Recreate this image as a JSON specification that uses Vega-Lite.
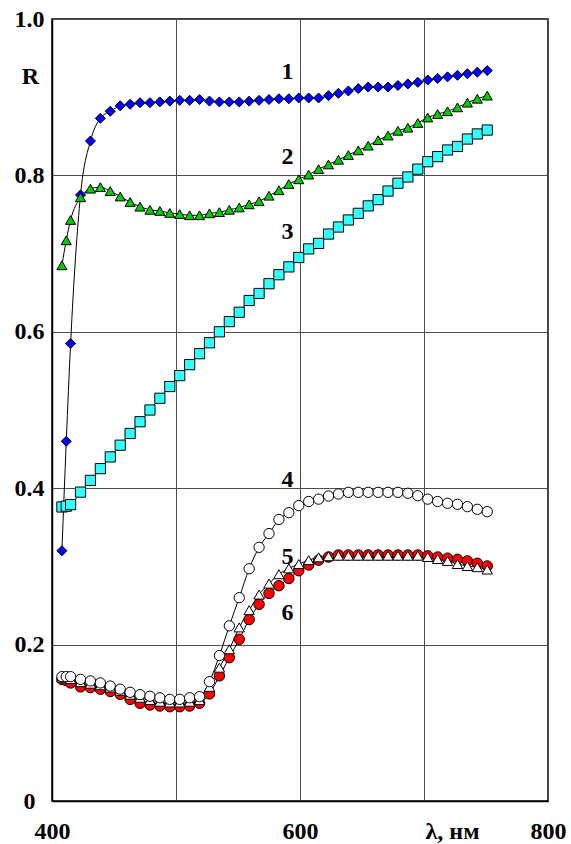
{
"$schema": "https://vega.github.io/schema/vega-lite/v6.json",
"width": 496, "height": 782,
"autosize": {"type": "none"},
"padding": {"left": 52, "top": 19, "right": 23, "bottom": 43},
"background": "white",
"config": {"view": {"stroke": "black", "strokeWidth": 1.5}, "font": "Liberation Serif"},
"datasets": {
"curves": [
{"s":"6","x":408,"y":0.1556},{"s":"6","x":411.5,"y":0.154},{"s":"6","x":415,"y":0.151},{"s":"6","x":423,"y":0.146},{"s":"6","x":431,"y":0.145},{"s":"6","x":439,"y":0.143},{"s":"6","x":447,"y":0.140},{"s":"6","x":455,"y":0.1365},{"s":"6","x":463,"y":0.130},{"s":"6","x":471,"y":0.125},{"s":"6","x":479,"y":0.1228},{"s":"6","x":487,"y":0.1215},{"s":"6","x":495,"y":0.1206},{"s":"6","x":503,"y":0.1206},{"s":"6","x":511,"y":0.1215},{"s":"6","x":519,"y":0.125},{"s":"6","x":527,"y":0.137},{"s":"6","x":535,"y":0.160},{"s":"6","x":543,"y":0.1833},{"s":"6","x":551,"y":0.2068},{"s":"6","x":559,"y":0.232},{"s":"6","x":567,"y":0.2515},{"s":"6","x":575,"y":0.2655},{"s":"6","x":583,"y":0.2753},{"s":"6","x":591,"y":0.2845},{"s":"6","x":599,"y":0.2945},{"s":"6","x":607,"y":0.3018},{"s":"6","x":615,"y":0.308},{"s":"6","x":623,"y":0.312},{"s":"6","x":631,"y":0.3146},{"s":"6","x":639,"y":0.3146},{"s":"6","x":647,"y":0.3146},{"s":"6","x":655,"y":0.3146},{"s":"6","x":663,"y":0.3146},{"s":"6","x":671,"y":0.3146},{"s":"6","x":679,"y":0.3146},{"s":"6","x":687,"y":0.3146},{"s":"6","x":695,"y":0.3146},{"s":"6","x":703,"y":0.3135},{"s":"6","x":711,"y":0.312},{"s":"6","x":719,"y":0.3105},{"s":"6","x":727,"y":0.309},{"s":"6","x":735,"y":0.307},{"s":"6","x":743,"y":0.304},{"s":"6","x":751,"y":0.3005},
{"s":"5","x":408,"y":0.158},{"s":"5","x":411.5,"y":0.157},{"s":"5","x":415,"y":0.156},{"s":"5","x":423,"y":0.152},{"s":"5","x":431,"y":0.150},{"s":"5","x":439,"y":0.148},{"s":"5","x":447,"y":0.145},{"s":"5","x":455,"y":0.141},{"s":"5","x":463,"y":0.136},{"s":"5","x":471,"y":0.132},{"s":"5","x":479,"y":0.129},{"s":"5","x":487,"y":0.127},{"s":"5","x":495,"y":0.126},{"s":"5","x":503,"y":0.126},{"s":"5","x":511,"y":0.127},{"s":"5","x":519,"y":0.129},{"s":"5","x":527,"y":0.146},{"s":"5","x":535,"y":0.1705},{"s":"5","x":543,"y":0.194},{"s":"5","x":551,"y":0.222},{"s":"5","x":559,"y":0.244},{"s":"5","x":567,"y":0.264},{"s":"5","x":575,"y":0.278},{"s":"5","x":583,"y":0.290},{"s":"5","x":591,"y":0.2975},{"s":"5","x":599,"y":0.303},{"s":"5","x":607,"y":0.308},{"s":"5","x":615,"y":0.3116},{"s":"5","x":623,"y":0.313},{"s":"5","x":631,"y":0.3137},{"s":"5","x":639,"y":0.3137},{"s":"5","x":647,"y":0.3137},{"s":"5","x":655,"y":0.3137},{"s":"5","x":663,"y":0.3137},{"s":"5","x":671,"y":0.3137},{"s":"5","x":679,"y":0.3137},{"s":"5","x":687,"y":0.3137},{"s":"5","x":695,"y":0.3137},{"s":"5","x":703,"y":0.312},{"s":"5","x":711,"y":0.3095},{"s":"5","x":719,"y":0.307},{"s":"5","x":727,"y":0.303},{"s":"5","x":735,"y":0.3005},{"s":"5","x":743,"y":0.299},{"s":"5","x":751,"y":0.296},
{"s":"4","x":408,"y":0.159},{"s":"4","x":411.5,"y":0.159},{"s":"4","x":415,"y":0.159},{"s":"4","x":423,"y":0.1556},{"s":"4","x":431,"y":0.1535},{"s":"4","x":439,"y":0.151},{"s":"4","x":447,"y":0.147},{"s":"4","x":455,"y":0.143},{"s":"4","x":463,"y":0.139},{"s":"4","x":471,"y":0.136},{"s":"4","x":479,"y":0.134},{"s":"4","x":487,"y":0.132},{"s":"4","x":495,"y":0.130},{"s":"4","x":503,"y":0.130},{"s":"4","x":511,"y":0.132},{"s":"4","x":519,"y":0.1334},{"s":"4","x":527,"y":0.1526},{"s":"4","x":535,"y":0.186},{"s":"4","x":543,"y":0.224},{"s":"4","x":551,"y":0.260},{"s":"4","x":559,"y":0.297},{"s":"4","x":567,"y":0.3244},{"s":"4","x":575,"y":0.342},{"s":"4","x":583,"y":0.360},{"s":"4","x":591,"y":0.3687},{"s":"4","x":599,"y":0.3777},{"s":"4","x":607,"y":0.383},{"s":"4","x":615,"y":0.386},{"s":"4","x":623,"y":0.390},{"s":"4","x":631,"y":0.3926},{"s":"4","x":639,"y":0.3947},{"s":"4","x":647,"y":0.3947},{"s":"4","x":655,"y":0.3947},{"s":"4","x":663,"y":0.3947},{"s":"4","x":671,"y":0.3947},{"s":"4","x":679,"y":0.3947},{"s":"4","x":687,"y":0.3935},{"s":"4","x":695,"y":0.3904},{"s":"4","x":703,"y":0.386},{"s":"4","x":711,"y":0.383},{"s":"4","x":719,"y":0.3807},{"s":"4","x":727,"y":0.3794},{"s":"4","x":735,"y":0.3764},{"s":"4","x":743,"y":0.373},{"s":"4","x":751,"y":0.370},
{"s":"3","x":408,"y":0.376},{"s":"3","x":411.5,"y":0.377},{"s":"3","x":415,"y":0.379},{"s":"3","x":423,"y":0.395},{"s":"3","x":431,"y":0.410},{"s":"3","x":439,"y":0.425},{"s":"3","x":447,"y":0.440},{"s":"3","x":455,"y":0.455},{"s":"3","x":463,"y":0.470},{"s":"3","x":471,"y":0.485},{"s":"3","x":479,"y":0.500},{"s":"3","x":487,"y":0.515},{"s":"3","x":495,"y":0.530},{"s":"3","x":503,"y":0.544},{"s":"3","x":511,"y":0.558},{"s":"3","x":519,"y":0.572},{"s":"3","x":527,"y":0.586},{"s":"3","x":535,"y":0.600},{"s":"3","x":543,"y":0.613},{"s":"3","x":551,"y":0.625},{"s":"3","x":559,"y":0.640},{"s":"3","x":567,"y":0.649},{"s":"3","x":575,"y":0.6615},{"s":"3","x":583,"y":0.673},{"s":"3","x":591,"y":0.683},{"s":"3","x":599,"y":0.695},{"s":"3","x":607,"y":0.706},{"s":"3","x":615,"y":0.713},{"s":"3","x":623,"y":0.725},{"s":"3","x":631,"y":0.734},{"s":"3","x":639,"y":0.743},{"s":"3","x":647,"y":0.7515},{"s":"3","x":655,"y":0.761},{"s":"3","x":663,"y":0.769},{"s":"3","x":671,"y":0.780},{"s":"3","x":679,"y":0.790},{"s":"3","x":687,"y":0.798},{"s":"3","x":695,"y":0.808},{"s":"3","x":703,"y":0.8175},{"s":"3","x":711,"y":0.824},{"s":"3","x":719,"y":0.8325},{"s":"3","x":727,"y":0.837},{"s":"3","x":735,"y":0.8465},{"s":"3","x":743,"y":0.853},{"s":"3","x":751,"y":0.858},
{"s":"1","x":408,"y":0.32},{"s":"1","x":411.5,"y":0.46},{"s":"1","x":415,"y":0.585},{"s":"1","x":423,"y":0.775},{"s":"1","x":431,"y":0.844},{"s":"1","x":439,"y":0.873},{"s":"1","x":447,"y":0.882},{"s":"1","x":455,"y":0.889},{"s":"1","x":463,"y":0.891},{"s":"1","x":471,"y":0.893},{"s":"1","x":479,"y":0.893},{"s":"1","x":487,"y":0.894},{"s":"1","x":495,"y":0.895},{"s":"1","x":503,"y":0.896},{"s":"1","x":511,"y":0.896},{"s":"1","x":519,"y":0.897},{"s":"1","x":527,"y":0.895},{"s":"1","x":535,"y":0.894},{"s":"1","x":543,"y":0.894},{"s":"1","x":551,"y":0.894},{"s":"1","x":559,"y":0.895},{"s":"1","x":567,"y":0.896},{"s":"1","x":575,"y":0.897},{"s":"1","x":583,"y":0.898},{"s":"1","x":591,"y":0.898},{"s":"1","x":599,"y":0.899},{"s":"1","x":607,"y":0.899},{"s":"1","x":615,"y":0.899},{"s":"1","x":623,"y":0.902},{"s":"1","x":631,"y":0.905},{"s":"1","x":639,"y":0.908},{"s":"1","x":647,"y":0.911},{"s":"1","x":655,"y":0.913},{"s":"1","x":663,"y":0.913},{"s":"1","x":671,"y":0.913},{"s":"1","x":679,"y":0.915},{"s":"1","x":687,"y":0.917},{"s":"1","x":695,"y":0.919},{"s":"1","x":703,"y":0.922},{"s":"1","x":711,"y":0.924},{"s":"1","x":719,"y":0.926},{"s":"1","x":727,"y":0.928},{"s":"1","x":735,"y":0.930},{"s":"1","x":743,"y":0.932},{"s":"1","x":751,"y":0.934},
{"s":"2","x":408,"y":0.685},{"s":"2","x":411.5,"y":0.717},{"s":"2","x":415,"y":0.743},{"s":"2","x":423,"y":0.772},{"s":"2","x":431,"y":0.783},{"s":"2","x":439,"y":0.785},{"s":"2","x":447,"y":0.780},{"s":"2","x":455,"y":0.773},{"s":"2","x":463,"y":0.766},{"s":"2","x":471,"y":0.760},{"s":"2","x":479,"y":0.756},{"s":"2","x":487,"y":0.7545},{"s":"2","x":495,"y":0.752},{"s":"2","x":503,"y":0.7505},{"s":"2","x":511,"y":0.749},{"s":"2","x":519,"y":0.749},{"s":"2","x":527,"y":0.7515},{"s":"2","x":535,"y":0.753},{"s":"2","x":543,"y":0.756},{"s":"2","x":551,"y":0.759},{"s":"2","x":559,"y":0.763},{"s":"2","x":567,"y":0.767},{"s":"2","x":575,"y":0.774},{"s":"2","x":583,"y":0.781},{"s":"2","x":591,"y":0.789},{"s":"2","x":599,"y":0.795},{"s":"2","x":607,"y":0.801},{"s":"2","x":615,"y":0.808},{"s":"2","x":623,"y":0.814},{"s":"2","x":631,"y":0.820},{"s":"2","x":639,"y":0.826},{"s":"2","x":647,"y":0.832},{"s":"2","x":655,"y":0.838},{"s":"2","x":663,"y":0.845},{"s":"2","x":671,"y":0.851},{"s":"2","x":679,"y":0.857},{"s":"2","x":687,"y":0.861},{"s":"2","x":695,"y":0.867},{"s":"2","x":703,"y":0.874},{"s":"2","x":711,"y":0.8785},{"s":"2","x":719,"y":0.882},{"s":"2","x":727,"y":0.887},{"s":"2","x":735,"y":0.893},{"s":"2","x":743,"y":0.898},{"s":"2","x":751,"y":0.902}
],
"labels": [
{"lab":"1","x":590,"y":0.932},{"lab":"2","x":590,"y":0.8235},{"lab":"3","x":590,"y":0.7276},
{"lab":"4","x":590,"y":0.4105},{"lab":"5","x":590,"y":0.312},{"lab":"6","x":590,"y":0.2404}
]
},
"encoding": {
"x": {"field": "x", "type": "quantitative",
 "scale": {"domain": [400, 800], "nice": false, "zero": false},
 "axis": {"values": [400, 500, 600, 700, 800],
  "labelExpr": "(datum.value == 500 || datum.value == 700) ? '' : datum.label",
  "grid": true, "gridColor": "#4d4d4d", "gridWidth": 1,
  "domainColor": "black", "domainWidth": 1.5, "ticks": false,
  "labelFont": "Liberation Serif", "labelFontWeight": "bold", "labelFontSize": 24, "labelColor": "black",
  "labelPadding": 30, "labelBaseline": "middle", "labelAlign": "center", "labelFlush": false, "labelOverlap": false,
  "title": "λ, нм", "titleFont": "Liberation Serif", "titleFontWeight": "bold", "titleFontSize": 24, "titleColor": "black",
  "titleX": 400, "titleY": 30, "titleBaseline": "middle", "titleAlign": "center", "titleAngle": 0}},
"y": {"field": "y", "type": "quantitative",
 "scale": {"domain": [0, 1], "nice": false, "zero": false},
 "axis": {"values": [0, 0.2, 0.4, 0.6, 0.8, 1],
  "labelExpr": "datum.value == 0 ? '0' : format(datum.value, '.1f')",
  "grid": true, "gridColor": "#4d4d4d", "gridWidth": 1,
  "domainColor": "black", "domainWidth": 1.5, "ticks": false,
  "labelFont": "Liberation Serif", "labelFontWeight": "bold", "labelFontSize": 24, "labelColor": "black",
  "labelPadding": 23, "labelBaseline": "middle", "labelAlign": "center", "labelFlush": false, "labelOverlap": false,
  "title": "R", "titleFont": "Liberation Serif", "titleFontWeight": "bold", "titleFontSize": 24, "titleColor": "black",
  "titleX": -22, "titleY": 57, "titleBaseline": "middle", "titleAlign": "center", "titleAngle": 0}}
},
"layer": [
{"data": {"name": "curves"},
 "mark": {"type": "line", "interpolate": "monotone", "color": "black", "strokeWidth": 1},
 "encoding": {"detail": {"field": "s"}}},
{"data": {"name": "curves"},
 "mark": {"type": "point", "filled": true, "stroke": "black", "strokeWidth": 1, "opacity": 1},
 "encoding": {
  "shape": {"field": "s", "scale": {"domain": ["1","2","3","4","5","6"], "range": ["diamond","triangle-up","square","circle","triangle-up","circle"]}, "legend": null},
  "fill": {"field": "s", "scale": {"domain": ["1","2","3","4","5","6"], "range": ["#0000ff","#00cc00","#33ffff","#ffffff","#ffffff","#ff0000"]}, "legend": null},
  "size": {"field": "s", "scale": {"domain": ["1","2","3","4","5","6"], "range": [100, 110, 90, 100, 110, 100]}, "legend": null}
 }},
{"data": {"name": "labels"},
 "mark": {"type": "text", "font": "Liberation Serif", "fontWeight": "bold", "fontSize": 24, "align": "center", "baseline": "middle", "color": "black"},
 "encoding": {"text": {"field": "lab"}}}
]
}
